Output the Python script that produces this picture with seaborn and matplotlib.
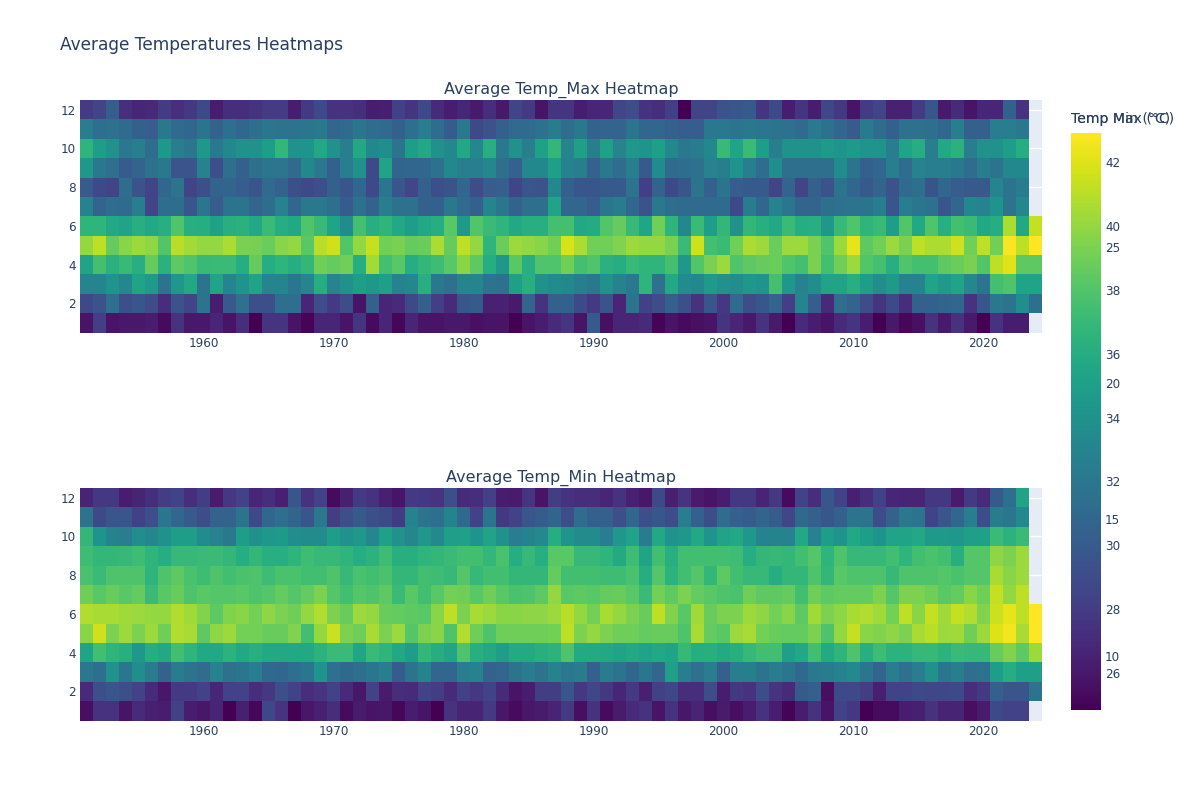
#!/usr/bin/env python3
import numpy as np
import pandas as pd
import matplotlib
matplotlib.use("Agg")
import matplotlib.pyplot as plt
import seaborn as sns

nan = np.nan
years = list(range(1951, 2025))
months = list(range(1, 13))

# average max temperature per month, 1951-2024
max_jan = [25.8,28.1,25.8,26.0,26.0,26.3,25.4,27.4,26.0,26.0,26.8,25.8,27.2,24.9,27.6,27.6,25.8,25.0,26.8,26.8,25.8,27.6,25.4,26.7,25.2,
           26.7,25.8,25.8,26.0,26.0,25.6,25.8,25.8,24.9,25.8,26.3,27.0,27.6,25.8,29.9,25.6,26.7,26.7,27.0,25.0,25.8,25.4,25.6,25.8,27.6,
           26.7,26.0,27.4,26.1,24.9,27.0,26.3,25.8,27.0,27.6,26.3,24.9,26.0,25.2,25.6,27.4,26.1,27.4,26.1,24.9,27.4,26.3,26.3,nan]
max_feb = [28.8,29.5,31.3,29.2,29.7,29.0,27.2,29.4,28.5,31.7,26.3,29.9,31.5,29.2,29.2,31.3,31.3,26.7,29.0,27.9,29.0,25.8,30.3,26.7,27.0,
           28.8,30.3,28.1,27.0,29.7,29.9,26.5,26.5,26.1,30.6,27.4,30.3,30.3,28.8,27.9,29.5,26.7,31.7,28.3,29.0,30.3,29.2,27.4,29.7,27.7,
           31.0,29.0,29.7,30.6,28.1,33.0,30.1,27.0,31.2,30.6,29.0,27.6,28.8,27.2,30.3,30.3,30.6,30.8,27.4,29.7,32.1,31.7,33.7,31.3]
max_mar = [33.0,33.0,34.2,33.3,35.3,34.6,31.7,34.4,35.7,31.7,35.3,33.0,34.1,35.3,33.0,33.0,31.9,33.0,36.0,33.0,33.9,34.8,34.4,35.0,32.8,
           33.2,36.2,32.1,31.5,33.0,33.0,31.7,31.5,35.0,36.2,33.9,33.5,33.3,32.6,32.1,33.9,32.8,32.1,36.6,31.5,35.7,33.5,33.3,34.6,33.9,
           33.7,34.4,34.2,37.5,34.4,32.8,33.7,35.3,35.3,36.2,34.8,33.7,34.6,32.8,32.8,35.3,34.6,35.3,33.2,31.7,37.5,37.9,35.3,35.3]
max_apr = [35.3,37.5,36.4,37.0,36.2,38.6,36.4,38.4,37.9,37.0,37.1,37.1,36.0,38.6,36.0,36.6,36.0,36.8,39.0,38.6,39.0,36.0,40.4,37.5,38.2,
           36.0,36.8,37.3,38.2,39.7,38.4,36.0,34.4,38.2,36.2,37.9,37.9,39.0,37.5,37.9,36.4,36.0,37.0,36.6,36.6,37.5,34.4,38.0,39.3,40.2,
           37.9,38.4,38.6,38.8,37.9,37.5,39.3,37.5,39.0,40.2,38.0,37.5,36.2,37.9,37.5,37.5,38.4,38.8,39.3,38.0,41.1,42.0,38.4,38.4]
max_may = [40.0,41.1,38.6,39.7,40.2,39.8,38.0,41.0,40.4,40.0,40.0,40.6,39.3,39.1,38.8,39.7,40.0,38.2,41.0,41.6,38.0,40.0,41.3,39.0,39.3,
           38.6,38.8,40.6,38.6,41.1,40.0,36.6,38.8,40.2,40.0,39.7,39.0,41.8,40.7,39.0,39.0,39.5,40.2,40.0,40.0,39.3,37.1,41.5,37.5,37.1,
           39.0,40.6,40.2,38.8,40.2,40.2,39.3,37.9,40.2,42.2,38.4,39.0,40.2,39.3,41.1,40.7,40.7,41.5,39.0,41.1,39.0,42.7,41.1,42.9]
max_jun = [36.6,36.6,35.7,35.3,36.2,35.7,36.2,37.9,36.2,36.0,35.1,36.2,36.4,35.7,37.1,36.0,35.7,37.9,37.0,35.3,33.5,37.5,36.2,36.6,35.7,
           34.8,35.7,36.0,38.2,34.6,38.0,37.1,36.6,35.7,36.2,36.2,37.5,37.5,35.7,35.9,38.0,38.6,37.0,35.5,39.0,36.6,33.3,37.1,34.8,36.8,
           33.9,36.8,36.2,35.7,37.1,36.0,36.2,34.4,37.0,37.9,36.6,37.0,34.8,38.0,35.7,37.9,36.2,37.5,37.1,35.7,36.0,40.6,35.7,41.3]
max_jul = [32.8,30.6,31.2,31.0,32.4,28.5,31.2,31.2,29.7,31.9,30.1,31.7,31.7,30.6,31.2,32.8,30.8,32.1,32.1,31.4,30.0,31.5,30.5,32.4,31.5,
           31.5,30.3,30.3,32.1,31.0,30.3,33.0,31.9,30.5,31.4,31.4,35.3,30.8,30.8,30.1,31.9,32.3,30.8,29.4,32.1,31.2,31.0,31.0,31.0,31.0,
           28.8,32.3,30.8,32.8,31.9,30.6,30.6,31.4,31.5,31.7,31.7,32.4,29.7,32.4,31.9,31.5,29.7,30.8,33.3,32.8,34.2,31.7,33.2,nan]
max_aug = [30.0,28.8,28.5,31.2,29.4,28.5,30.8,31.7,28.5,29.2,30.5,30.6,30.1,29.7,31.0,30.5,29.2,28.8,29.2,30.3,29.6,30.8,28.8,31.9,29.7,
           28.6,30.3,29.2,29.5,30.8,29.0,30.1,30.3,28.5,29.7,29.5,33.3,30.3,29.7,29.7,29.9,29.9,31.7,28.1,30.5,28.8,29.7,31.7,30.3,31.7,
           30.1,29.9,29.9,28.5,30.6,28.5,30.3,29.4,31.7,30.8,29.9,30.6,29.4,31.0,31.4,29.5,30.8,30.1,29.9,29.9,33.0,31.7,32.3,nan]
max_sep = [34.4,32.1,31.4,30.0,30.6,31.5,32.1,29.6,29.6,32.8,29.2,31.4,30.3,31.4,31.9,31.9,31.0,33.3,32.1,30.3,32.4,33.9,28.8,35.3,30.6,
           30.8,30.8,31.5,33.3,32.4,32.4,33.2,31.4,30.4,33.2,33.3,35.0,32.8,32.6,30.4,32.1,31.2,32.4,29.9,33.5,31.0,31.2,31.5,32.8,32.6,
           34.2,32.4,31.2,33.7,31.4,31.4,31.4,31.4,33.5,31.7,30.3,30.8,32.4,31.2,32.8,32.4,32.4,32.1,31.2,32.4,31.7,33.3,33.3,nan]
max_oct = [36.6,34.8,33.9,32.1,32.4,31.2,34.4,32.4,31.9,34.4,32.1,33.3,33.9,33.9,34.8,36.8,33.9,34.2,35.7,33.9,32.4,35.7,33.3,33.7,31.7,
           34.8,35.7,33.9,33.3,35.7,33.3,36.2,32.1,33.9,32.6,35.1,36.8,33.0,35.0,32.6,35.1,33.0,34.4,34.2,35.0,33.3,32.1,32.3,33.3,37.0,
           35.3,37.1,34.8,32.4,33.9,33.9,33.9,34.6,34.2,34.6,34.2,34.2,32.4,35.3,36.0,32.4,35.7,36.4,32.4,33.9,33.9,34.8,36.0,nan]
max_nov = [32.4,31.3,31.5,31.0,30.3,30.1,32.1,31.0,30.8,31.7,30.5,31.3,30.8,31.3,31.9,31.7,31.7,31.9,32.1,30.8,31.0,31.9,31.2,31.0,30.3,
           31.3,32.4,31.2,30.0,32.1,28.8,29.4,30.3,31.0,31.0,31.5,32.3,31.2,32.1,30.5,30.6,30.6,31.7,30.8,30.8,30.3,30.1,30.1,32.1,32.1,
           31.7,32.1,31.9,31.7,31.5,31.0,32.2,31.5,30.8,30.0,32.2,31.2,30.3,31.5,31.5,31.3,30.8,32.4,30.3,30.3,32.4,32.4,32.1,nan]
max_dec = [28.0,28.5,30.2,27.3,26.8,26.9,28.0,27.3,27.8,28.8,26.2,27.2,27.2,27.4,28.0,28.0,26.2,27.9,28.8,27.4,27.4,27.2,26.2,26.4,28.3,
           27.6,28.8,27.0,26.3,26.8,26.1,27.2,26.0,28.5,27.9,25.8,27.6,27.6,26.3,26.7,26.7,28.7,29.0,27.4,27.2,28.1,24.9,28.5,28.5,29.5,
           29.7,29.9,27.6,28.8,26.3,27.6,26.3,28.6,27.8,25.8,28.0,28.5,26.5,26.5,28.0,29.7,26.1,27.0,25.8,26.7,26.7,30.3,27.4,nan]

# average min temperature per month
min_jan = [8.8,11.0,11.0,9.1,10.5,9.9,9.7,12.0,9.7,9.3,10.1,8.0,9.9,8.4,12.5,11.2,8.0,9.3,9.9,10.8,8.6,9.5,9.1,9.3,8.4,
           9.7,9.1,8.0,11.0,10.1,10.1,11.6,9.3,8.6,9.3,9.5,10.1,11.6,8.8,11.0,8.6,9.5,10.5,11.0,9.1,11.0,9.3,10.1,8.8,9.5,
           8.8,9.7,11.0,9.7,8.2,9.7,11.0,9.1,12.2,11.4,8.0,8.6,8.6,9.7,9.9,11.0,10.1,10.1,8.8,9.5,12.7,12.2,12.2,nan]
min_feb = [10.5,13.1,13.5,13.1,12.2,10.5,9.3,11.6,11.6,12.2,10.3,12.2,12.2,10.8,11.4,13.1,12.2,10.8,11.2,12.2,10.5,9.3,12.2,9.5,10.8,
           10.5,12.2,11.8,10.5,12.0,11.4,12.2,10.5,9.1,9.7,11.8,11.8,13.5,11.4,12.5,11.4,10.3,11.6,9.9,12.0,12.5,10.8,10.8,12.9,9.7,
           11.4,11.0,12.9,11.2,10.5,13.9,14.4,8.8,12.7,12.7,11.8,9.9,12.2,12.2,12.7,12.5,12.5,12.7,10.8,11.6,14.4,13.5,13.7,16.1]
min_mar = [16.5,15.6,18.6,16.3,18.4,16.7,14.6,16.7,16.1,15.4,17.3,15.8,16.3,16.9,15.2,15.0,15.6,16.3,19.0,15.8,15.2,15.6,16.3,16.9,14.1,
           16.1,17.5,15.0,15.0,16.9,17.3,14.6,15.0,16.1,16.9,16.1,17.3,16.5,16.7,14.4,16.7,16.1,15.0,16.3,15.0,19.9,16.9,15.8,16.9,14.4,
           16.9,17.1,16.1,16.7,16.3,15.2,16.5,16.7,17.3,18.0,16.3,14.8,16.9,15.8,16.9,18.6,16.3,17.1,15.6,15.8,19.7,21.1,19.9,19.9]
min_apr = [20.3,22.8,21.8,21.4,19.2,21.1,20.7,22.8,21.8,20.7,20.7,21.6,20.7,21.4,20.7,20.7,20.7,20.7,21.6,22.4,22.4,20.5,22.4,21.8,20.7,
           19.7,22.0,21.1,20.5,23.3,21.4,20.7,19.7,20.9,20.9,21.4,21.6,23.3,20.9,20.9,20.7,20.3,20.7,20.3,20.7,20.3,22.2,21.1,21.4,20.9,
           21.4,22.2,22.8,22.8,19.9,20.7,22.8,20.9,21.8,23.3,21.4,22.6,21.6,21.6,22.2,22.2,21.6,22.4,22.2,22.2,24.3,25.2,23.9,26.0]
min_may = [25.4,27.7,25.0,26.0,25.0,26.0,24.5,26.7,26.4,23.9,25.6,26.0,24.7,24.7,24.3,24.3,25.2,22.8,25.8,27.5,25.0,24.5,26.4,25.0,26.0,
           23.5,25.0,25.4,23.3,26.7,24.5,23.3,24.5,24.5,24.5,24.5,24.7,27.1,25.0,25.8,25.0,24.5,24.5,24.1,24.3,24.3,23.3,26.4,24.1,23.7,
           26.0,26.4,24.7,24.3,24.1,24.1,25.0,23.3,25.8,27.3,25.4,25.2,25.6,25.0,26.4,26.9,26.0,26.2,24.5,26.0,28.1,28.8,26.4,29.2]
min_jun = [26.7,26.4,26.4,26.2,26.0,25.8,25.8,26.7,26.2,25.2,23.9,25.2,25.4,24.7,25.6,25.0,24.5,25.8,26.7,25.0,24.3,26.0,25.8,24.3,24.1,
           23.9,23.7,25.4,27.1,25.0,26.4,26.0,25.4,25.4,25.6,25.6,26.0,26.9,25.8,24.7,26.4,25.8,25.0,24.3,27.1,25.2,23.7,26.2,24.3,25.0,
           25.0,26.0,25.6,24.7,25.4,23.9,26.2,25.0,25.6,26.4,26.7,26.2,24.7,27.1,25.4,27.3,26.2,27.3,26.7,25.2,27.5,28.4,27.1,29.2]
min_jul = [24.5,23.7,24.3,23.7,24.1,22.4,23.7,24.3,23.3,23.7,23.5,23.5,23.7,23.3,23.5,24.1,23.5,24.1,25.0,23.5,22.8,23.5,23.3,23.9,22.4,
           23.7,22.8,23.7,24.7,24.5,23.7,24.5,23.7,23.1,23.3,23.9,25.8,23.7,23.9,23.7,24.1,24.3,23.7,22.4,24.7,23.9,25.0,24.1,23.7,23.3,
           23.1,24.5,23.9,23.9,24.1,22.8,24.5,23.9,24.1,24.1,24.1,25.0,23.5,25.0,25.0,24.5,23.7,24.1,25.4,24.5,27.3,25.8,27.1,nan]
min_aug = [23.1,22.4,23.3,23.3,23.3,21.8,23.3,23.9,23.1,22.6,23.3,22.8,23.1,23.3,22.6,23.1,23.1,22.8,22.8,23.3,22.2,23.1,22.8,23.1,22.0,
           22.0,22.8,22.6,22.2,23.5,22.2,22.8,22.8,22.0,22.0,22.0,24.1,22.8,22.8,22.8,22.6,22.6,23.1,21.1,23.5,21.6,22.8,23.5,22.0,23.9,
           22.8,22.2,22.2,21.1,22.0,22.0,23.3,22.0,23.7,23.3,23.3,23.3,22.2,23.3,23.3,23.3,23.5,23.1,23.5,23.5,26.4,25.4,26.0,nan]
min_sep = [22.6,22.0,22.0,22.2,22.6,21.8,21.1,22.2,22.2,22.4,22.4,22.0,21.1,22.0,21.4,21.4,21.8,22.6,22.2,22.2,21.8,21.1,21.6,22.6,21.4,
           21.4,21.8,22.0,22.4,22.8,22.8,22.0,23.1,21.1,22.2,21.4,23.7,23.7,22.2,22.2,21.8,20.9,22.6,20.3,22.8,21.4,22.8,22.8,22.8,22.8,
           22.6,21.1,22.0,22.2,22.0,22.8,23.5,21.8,23.3,22.2,22.2,22.2,22.8,21.8,22.8,23.1,22.8,21.4,23.5,23.5,25.6,25.0,26.0,nan]
min_oct = [22.0,19.0,17.5,16.9,18.4,17.8,18.8,19.7,19.7,18.2,17.3,16.5,19.7,18.6,19.2,19.4,18.4,18.2,18.2,19.7,18.6,19.2,17.8,20.1,18.6,
           17.8,19.2,18.0,19.9,20.1,19.0,20.3,18.6,16.9,17.5,18.0,21.1,19.0,18.2,18.2,16.9,19.2,20.3,16.7,20.7,19.0,19.2,20.7,19.0,20.3,
           20.7,19.2,17.5,17.5,17.3,20.7,17.3,19.7,19.0,20.7,19.7,19.0,20.3,20.3,20.7,19.4,19.4,19.2,19.9,20.1,22.4,21.6,22.4,nan]
min_nov = [16.1,12.7,13.5,13.5,12.0,13.1,16.3,15.0,13.9,12.9,14.6,14.6,16.1,12.7,15.0,15.6,14.8,13.7,16.5,11.8,13.1,13.9,13.1,12.7,11.6,
           17.5,16.1,15.6,17.5,15.2,12.2,16.1,11.4,12.2,13.7,14.1,14.8,12.9,15.4,14.4,14.4,13.1,15.0,13.1,13.7,12.9,16.9,14.4,12.9,15.4,
           14.4,14.1,14.8,14.1,12.5,15.2,14.4,13.7,14.4,16.1,16.1,12.9,14.6,16.5,16.1,12.2,13.5,15.0,16.9,12.9,16.7,16.3,18.0,nan]
min_dec = [10.1,11.4,11.4,9.7,10.1,10.8,11.8,12.2,10.8,11.8,9.5,11.4,12.2,10.3,10.8,9.9,13.7,11.0,12.2,8.6,9.9,11.6,11.0,9.9,9.1,
           11.6,11.4,11.2,13.1,10.5,10.8,12.0,9.7,9.5,11.2,9.1,11.8,11.0,10.8,10.8,10.3,11.0,9.9,9.3,12.7,9.9,11.2,9.5,9.1,9.7,
           11.4,11.4,10.1,11.4,8.6,12.2,10.8,13.7,12.2,9.9,10.8,12.0,10.3,10.1,10.1,11.4,11.4,9.5,11.6,10.5,13.9,15.6,20.3,nan]

max_rows = [max_jan, max_feb, max_mar, max_apr, max_may, max_jun, max_jul, max_aug, max_sep, max_oct, max_nov, max_dec]
min_rows = [min_jan, min_feb, min_mar, min_apr, min_may, min_jun, min_jul, min_aug, min_sep, min_oct, min_nov, min_dec]
df_max = pd.DataFrame(max_rows, index=months, columns=years)
df_min = pd.DataFrame(min_rows, index=months, columns=years)

max_ticks = [26, 28, 30, 32, 34, 36, 38, 40, 42]
min_ticks = [10, 15, 20, 25]
year_ticks = [1960, 1970, 1980, 1990, 2000, 2010, 2020]
month_ticks = [2, 4, 6, 8, 10, 12]

TEXT = "#2a3f5f"
W, H = 1200, 800
plt.rcParams["font.family"] = ["DejaVu Sans"]


def px_rect(left, top, right, bottom):
    return [left / W, 1 - bottom / H, (right - left) / W, (bottom - top) / H]


fig = plt.figure(figsize=(12, 8), dpi=100)
ax_max = fig.add_axes(px_rect(80, 100, 1042, 332.5))
ax_min = fig.add_axes(px_rect(80, 488, 1042, 720.5))
cax_max = fig.add_axes(px_rect(1071, 133, 1101, 710))
cax_min = fig.add_axes(px_rect(1071, 133, 1101, 710))

panels = [
    (ax_max, cax_max, df_max, max_ticks, 24.85, 42.9, "Average Temp_Max Heatmap"),
    (ax_min, cax_min, df_min, min_ticks, 8.0, 29.2, "Average Temp_Min Heatmap"),
]
for ax, cax, df, cticks, vmin, vmax, title in panels:
    sns.heatmap(df, ax=ax, cbar_ax=cax, cmap="viridis", vmin=vmin, vmax=vmax,
                xticklabels=False, yticklabels=False)
    ax.invert_yaxis()
    ax.set_facecolor("#E5ECF6")
    ax.set_axisbelow(True)
    ax.grid(True, color="white", linewidth=1)
    ax.set_xticks([years.index(y) + 0.5 for y in year_ticks])
    ax.set_xticklabels(year_ticks)
    ax.set_yticks([months.index(m) + 0.5 for m in month_ticks])
    ax.set_yticklabels(month_ticks, rotation=0)
    ax.tick_params(length=0, labelsize=8.64, labelcolor=TEXT, pad=3)
    ax.set_xlabel("")
    ax.set_ylabel("")
    ax.set_title(title, fontsize=11.52, color=TEXT, pad=4.5)
    for s in ax.spines.values():
        s.set_visible(False)

    cax.set_yticks(cticks)
    cax.set_yticklabels(cticks)
    cax.tick_params(length=0, labelsize=8.64, labelcolor=TEXT, pad=3)
    for s in cax.spines.values():
        s.set_visible(False)

cax_min.patch.set_alpha(0)
fig.text(1071 / W, 1 - 119 / H, "Temp Max (°C)", fontsize=10.08, color=TEXT, va="center", ha="left")
fig.text(1071 / W, 1 - 119 / H, "Temp Min (°C)", fontsize=10.08, color=TEXT, va="center", ha="left")
fig.text(60 / W, 1 - 44.5 / H, "Average Temperatures Heatmaps", fontsize=12.24, color=TEXT, va="center", ha="left")

fig.savefig("out.png", dpi=100)
